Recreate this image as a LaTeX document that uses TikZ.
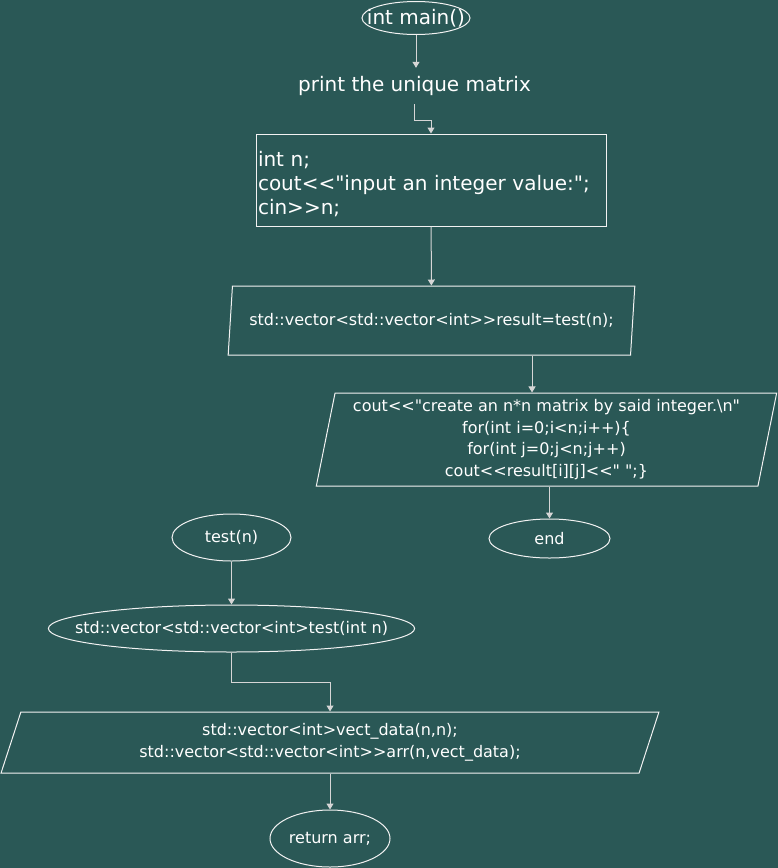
\documentclass[tikz,border=0pt]{standalone}
\usepackage{fontspec}
\setmainfont{DejaVu Sans}[Ligatures=TeXOff]
\usetikzlibrary{shapes.geometric,arrows.meta,calc}
\definecolor{bgteal}{HTML}{2A5856}
\definecolor{edgeclr}{HTML}{F2F2F2}
\definecolor{linkclr}{HTML}{D6D6D6}
\tikzset{
  bigtext/.style={font=\fontsize{20pt}{24pt}\selectfont},
  smalltext/.style={font=\fontsize{16pt}{21.5pt}\selectfont},
  terminal/.style={ellipse, draw=edgeclr, text=white, inner sep=0pt, line width=1pt},
  declbox/.style={rectangle, draw=edgeclr, text=white, line width=1pt, align=left},
  iobox/.style={trapezium, trapezium stretches=true, trapezium left angle=#1,
    trapezium right angle=180-#1, draw=edgeclr, text=white, line width=1pt,
    align=center, inner sep=0pt},
  link/.style={draw=linkclr, line width=1pt, -{Triangle[length=6pt,width=7pt]}}
}
\begin{document}
\begin{tikzpicture}[x=1pt, y=-1pt]
  \useasboundingbox (0,0) rectangle (778,868);
  \fill[bgteal] (0,0) rectangle (778,868);

  % main program
  \node[terminal, bigtext, inner xsep=-12pt, minimum width=108, minimum height=33] (main) at (416,18) {int main()};
  \node[bigtext, text=white, minimum height=36, inner sep=0pt] (print) at (414.5,86) {print the unique matrix};
  \node[declbox, bigtext, minimum height=92, text width=346, inner xsep=2, inner ysep=0] (decl) at (431,180)
    {\rule{0pt}{23pt}int n;\\cout<<"input an integer value:";\\cin>>n;};
  \node[iobox=74.6, smalltext, minimum width=409, minimum height=69] (result) at (431.5,320.5)
    {std::vector<std::vector<int>>result=test(n);};
  \node[iobox=77.9, smalltext, minimum width=462, minimum height=93] (matrix) at (546.5,439.5)
    {cout<<"create an n*n matrix by said integer.\textbackslash n"\\
     for(int i=0;i<n;i++)\{\\
     for(int j=0;j<n;j++)\\
     cout<<result[i][j]<<" ";\}};
  \node[terminal, smalltext, minimum width=121, minimum height=39] (end) at (549.5,538.5) {end};

  % test function
  \node[terminal, smalltext, minimum width=119, minimum height=47] (test) at (231.5,537.5) {test(n)};
  \node[terminal, smalltext, inner xsep=-27pt, minimum width=363, minimum height=47] (head) at (231.5,628.5)
    {std::vector<std::vector<int>test(int n)};
  \node[iobox=71.9, smalltext, minimum width=660, minimum height=61] (data) at (330,742.5)
    {std::vector<int>vect\_data(n,n);\\std::vector<std::vector<int>>arr(n,vect\_data);};
  \node[terminal, smalltext, minimum width=120, minimum height=57] (ret) at (330,838.5) {return arr;};

  % connectors
  \draw[link] (main) -- (main |- print.north);
  \draw[link] (print.south) -- ++(0,16) -| (decl.north);
  \draw[link] (decl) -- (result);
  \coordinate (split) at ($(result.south)+(100.5,0)$);
  \draw[link] (split) -- (split |- matrix.north);
  \draw[link] (matrix.south -| end.north) -- (end.north);
  \draw[link] (test) -- (head);
  \draw[link] (head.south) -- ++(0,30) -| (data.north);
  \draw[link] (data) -- (ret);
\end{tikzpicture}
\end{document}
